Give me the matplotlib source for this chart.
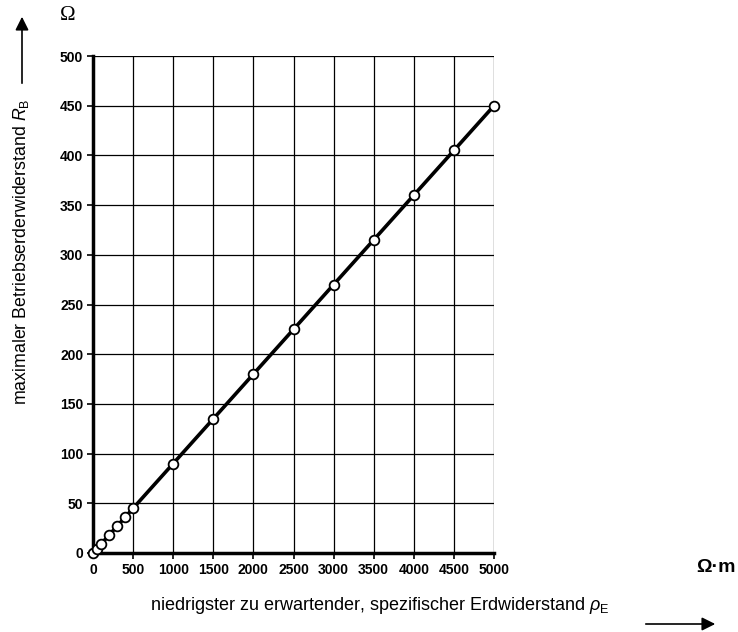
import matplotlib
matplotlib.use("Agg")
import matplotlib.pyplot as plt

rho = [0, 50, 100, 200, 300, 400, 500, 1000, 1500, 2000, 2500, 3000, 3500, 4000, 4500, 5000]
rb = [0, 4.5, 9, 18, 27, 36, 45, 90, 135, 180, 225, 270, 315, 360, 405, 450]
xticks = [0, 500, 1000, 1500, 2000, 2500, 3000, 3500, 4000, 4500, 5000]
yticks = [0, 50, 100, 150, 200, 250, 300, 350, 400, 450, 500]

plt.rcParams['font.family'] = ['Liberation Sans', 'DejaVu Sans']
plt.rcParams['mathtext.fontset'] = 'custom'
plt.rcParams['mathtext.rm'] = 'Liberation Sans'
plt.rcParams['mathtext.it'] = 'Liberation Sans:italic'

fig = plt.figure(figsize=(7.38, 6.32), dpi=100)
ax = fig.add_axes([93/738, 1-553/632, (494-93)/738, (553-56)/632])

ax.set_xlim(0, 5000)
ax.set_ylim(0, 500)
ax.set_xticks(xticks)
ax.set_yticks(yticks)
ax.set_xticklabels([str(v) for v in xticks], fontweight='bold', fontsize=10)
ax.set_yticklabels([str(v) for v in yticks], fontweight='bold', fontsize=10)
ax.grid(True, color='black', linewidth=0.9)
ax.set_axisbelow(True)
for s in ['top', 'right']:
    ax.spines[s].set_visible(False)
for s in ['left', 'bottom']:
    ax.spines[s].set_linewidth(2.5)
ax.tick_params(axis='both', direction='out', length=4, width=1.2, pad=3)

ax.plot(rho, rb, color='black', linewidth=2.6, marker='o', markersize=7,
        markerfacecolor='white', markeredgecolor='black', markeredgewidth=1.3,
        clip_on=False, zorder=5)

# axis labels
fig.text(21/738, 1-252/632, 'maximaler Betriebserderwiderstand $\\mathit{R}_\\mathrm{B}$',
         rotation=90, ha='center', va='center', fontsize=12.8)
fig.text(380/738, 1-606/632, 'niedrigster zu erwartender, spezifischer Erdwiderstand $\\mathit{\\rho}_\\mathrm{E}$',
         ha='center', va='center', fontsize=13)
fig.text(68/738, 1-16/632, 'Ω', ha='center', va='center', fontsize=15, family='Liberation Serif')
fig.text(716/738, 1-568/632, 'Ω·m', ha='center', va='center', fontsize=14, fontweight='bold')

# arrows
fig.add_artist(matplotlib.patches.FancyArrowPatch((22/738, 1-86/632), (22/738, 1-14/632),
               transform=fig.transFigure, arrowstyle='-|>', mutation_scale=20,
               color='black', linewidth=1.2))
fig.add_artist(matplotlib.patches.FancyArrowPatch((643/738, 1-624/632), (718/738, 1-624/632),
               transform=fig.transFigure, arrowstyle='-|>', mutation_scale=20,
               color='black', linewidth=1.2))

fig.savefig('out.png', dpi=100)
